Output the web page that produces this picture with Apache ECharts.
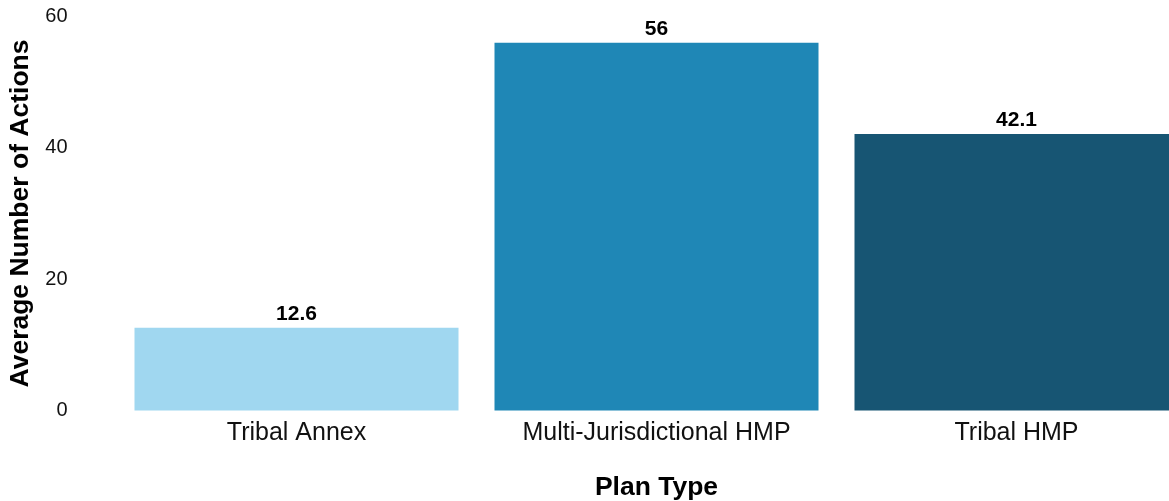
<!DOCTYPE html>
<html>
<head>
<meta charset="utf-8">
<script src="https://cdn.jsdelivr.net/npm/echarts@6/dist/echarts.min.js"></script>
<style>
  html, body { margin: 0; padding: 0; background: #ffffff; }
  #chart { width: 1169px; height: 501px; }
</style>
</head>
<body>
<div id="chart"></div>
<script>
// Average number of mitigation actions by plan type
const categories = ['Tribal Annex', 'Multi-Jurisdictional HMP', 'Tribal HMP'];
const averages = [12.6, 56, 42.1];
const barColors = ['#A0D7F0', '#1F87B6', '#175573'];
const yTicks = [0, 20, 40, 60];

const FONT = '"Liberation Sans", Arial, Helvetica, sans-serif';

const chart = echarts.init(document.getElementById('chart'), null, { renderer: 'canvas' });

chart.setOption({
  backgroundColor: '#ffffff',
  animation: false,
  // the plot panel runs past the right edge of the canvas
  grid: { left: 116.5, top: 16.5, width: 1080, height: 394, containLabel: false, outerBoundsMode: 'none' },
  xAxis: {
    type: 'category',
    data: categories,
    boundaryGap: true,
    axisLine: { show: false },
    axisTick: { show: false },
    splitLine: { show: false },
    axisLabel: { color: '#111111', fontFamily: FONT, fontSize: 25, margin: 10 },
    name: 'Plan Type',
    nameLocation: 'middle',
    nameGap: 64,
    nameTextStyle: { color: '#000000', fontFamily: FONT, fontSize: 26.5, fontWeight: 'bold' }
  },
  yAxis: {
    type: 'value',
    min: yTicks[0],
    max: yTicks[yTicks.length - 1],
    interval: yTicks[1] - yTicks[0],
    axisLine: { show: false },
    axisTick: { show: false },
    splitLine: { show: false },
    axisLabel: { color: '#111111', fontFamily: FONT, fontSize: 20, margin: 49 },
    name: 'Average Number of Actions',
    nameLocation: 'middle',
    nameGap: 77,
    nameTextStyle: { color: '#000000', fontFamily: FONT, fontSize: 26.5, fontWeight: 'bold' }
  },
  series: [{
    type: 'bar',
    data: averages.map((v, i) => ({ value: v, itemStyle: { color: barColors[i] } })),
    barWidth: 324,
    label: {
      show: true,
      position: 'top',
      distance: 3,
      color: '#000000',
      fontFamily: FONT,
      fontSize: 21,
      fontWeight: 'bold'
    }
  }]
});
</script>
</body>
</html>
